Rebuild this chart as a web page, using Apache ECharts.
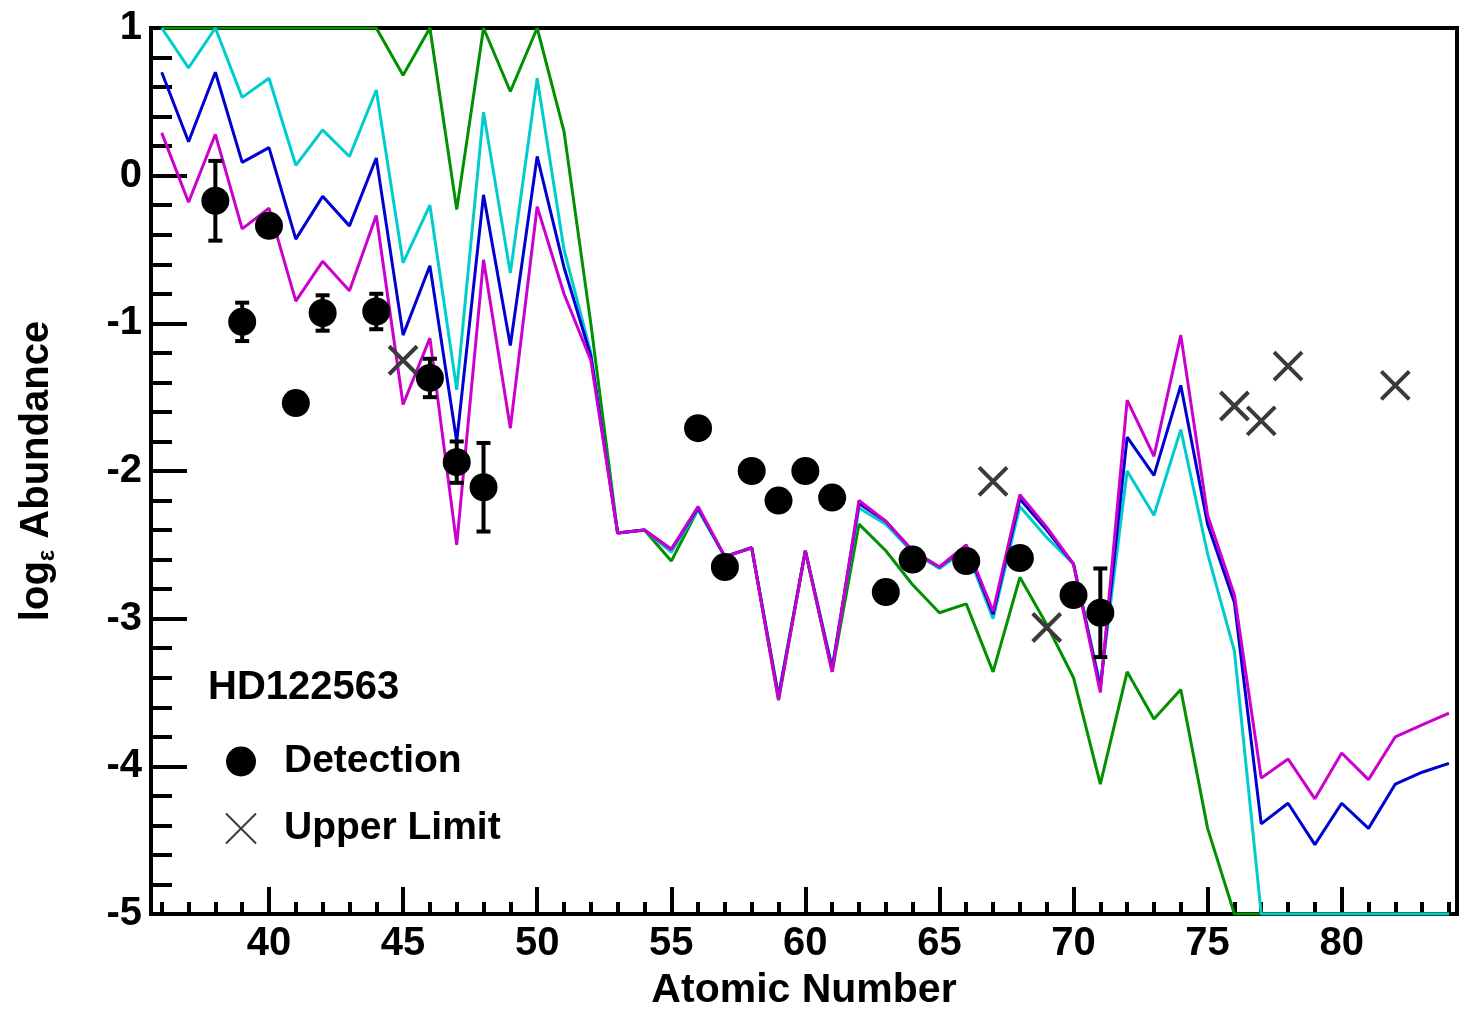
<!DOCTYPE html>
<html><head><meta charset="utf-8">
<script src="https://cdn.jsdelivr.net/npm/echarts@6/dist/echarts.min.js"></script>
<style>html,body{margin:0;padding:0;background:#fff}#c{width:1461px;height:1016px}</style>
</head><body><div id="c"></div>
<script>
// ---------- data ----------
const atomicNumbers = [36,37,38,39,40,41,42,43,44,45,46,47,48,49,50,51,52,53,54,55,56,57,58,59,60,61,62,63,64,65,66,67,68,69,70,71,72,73,74,75,76,77,78,79,80,81,82,83,84];
const greenModel = [1,1,1,1,1,1,1,1,1,0.68,1,-0.23,1,0.57,1,0.3,-1.0,-2.42,-2.40,-2.61,-2.26,-2.58,-2.52,-3.55,-2.54,-3.36,-2.36,-2.54,-2.77,-2.96,-2.90,-3.36,-2.72,-3.04,-3.40,-4.12,-3.36,-3.68,-3.48,-4.42,-5,-5,-5,-5,-5,-5,-5,-5,-5];
const cyanModel = [1.0,0.73,1.0,0.53,0.66,0.07,0.31,0.13,0.58,-0.59,-0.20,-1.45,0.43,-0.66,0.66,-0.5,-1.2,-2.42,-2.40,-2.55,-2.26,-2.58,-2.52,-3.52,-2.54,-3.33,-2.25,-2.36,-2.55,-2.66,-2.53,-3.0,-2.24,-2.45,-2.63,-3.45,-2.0,-2.30,-1.72,-2.56,-3.22,-5,-5,-5,-5,-5,-5,-5,-5];
const blueModel = [0.70,0.23,0.70,0.09,0.19,-0.43,-0.14,-0.34,0.12,-1.08,-0.61,-1.80,-0.13,-1.15,0.13,-0.62,-1.22,-2.42,-2.40,-2.53,-2.25,-2.58,-2.52,-3.53,-2.54,-3.34,-2.22,-2.34,-2.54,-2.65,-2.51,-2.97,-2.19,-2.40,-2.63,-3.47,-1.77,-2.03,-1.42,-2.36,-2.89,-4.39,-4.25,-4.53,-4.25,-4.42,-4.12,-4.04,-3.98];
const magentaModel = [0.29,-0.18,0.28,-0.36,-0.22,-0.85,-0.58,-0.78,-0.27,-1.55,-1.10,-2.50,-0.57,-1.71,-0.21,-0.8,-1.25,-2.42,-2.40,-2.53,-2.24,-2.58,-2.52,-3.55,-2.54,-3.36,-2.20,-2.34,-2.54,-2.65,-2.50,-2.95,-2.16,-2.38,-2.63,-3.50,-1.52,-1.90,-1.08,-2.30,-2.84,-4.08,-3.95,-4.22,-3.91,-4.09,-3.80,-3.72,-3.64];

const detectionZ = [38,39,40,41,42,44,46,47,48,56,57,58,59,60,61,63,64,66,68,70,71];
const detectionVal = [-0.17,-0.99,-0.34,-1.54,-0.93,-0.92,-1.37,-1.94,-2.11,-1.71,-2.65,-2.00,-2.20,-2.00,-2.18,-2.82,-2.60,-2.61,-2.59,-2.84,-2.96];
const detectionErr = [0.27,0.13,0,0,0.12,0.12,0.13,0.14,0.30,0,0,0,0,0,0,0,0,0,0,0,0.30];

const upperZ = [45,67,69,76,77,78,82];
const upperVal = [-1.25,-2.07,-3.06,-1.56,-1.66,-1.29,-1.42];

const xMajorTicks = [40,45,50,55,60,65,70,75,80];
const xMinorTicks = [36,37,38,39,40,41,42,43,44,45,46,47,48,49,50,51,52,53,54,55,56,57,58,59,60,61,62,63,64,65,66,67,68,69,70,71,72,73,74,75,76,77,78,79,80,81,82,83,84];
const starName = 'HD122563';

// ---------- chart ----------
const FONT = "'Liberation Sans', Arial, Helvetica, sans-serif";
const chart = echarts.init(document.getElementById('c'), null, {renderer: 'canvas'});
const pairs = arr => atomicNumbers.map((z, i) => [z, arr[i]]);
const XPATH = 'path://M0,0L30,30M30,0L0,30';

function lineSeries(name, color, arr) {
  return {
    name, type: 'line', data: pairs(arr), symbol: 'none', clip: true,
    lineStyle: {color, width: 3}, itemStyle: {color}, z: 2, silent: true
  };
}

const errData = [];
detectionZ.forEach((z, i) => { if (detectionErr[i] > 0) errData.push([z, detectionVal[i], detectionErr[i]]); });

const option = {
  animation: false,
  backgroundColor: '#fff',
  grid: {left: 151, top: 28, width: 1306, height: 889, show: true, borderColor: '#000', borderWidth: 4, backgroundColor: 'transparent'},
  xAxis: [{
    type: 'value', min: 35.6, max: 84.3, position: 'bottom',
    axisLine: {show: true, onZero: false, lineStyle: {color: '#000', width: 4}},
    axisTick: {show: true, inside: true, length: 27, lineStyle: {color: '#000', width: 4}, customValues: xMajorTicks},
    axisLabel: {show: true, customValues: xMajorTicks, margin: 10, color: '#000', fontSize: 40, fontWeight: 'bold', fontFamily: FONT},
    splitLine: {show: false},
    name: 'Atomic Number', nameLocation: 'middle', nameGap: 56,
    nameTextStyle: {color: '#000', fontSize: 41, fontWeight: 'bold', fontFamily: FONT}
  }, {
    type: 'value', min: 35.6, max: 84.3, position: 'bottom', offset: 0,
    axisLine: {show: false, onZero: false},
    axisTick: {show: true, inside: true, length: 12, lineStyle: {color: '#000', width: 4}, customValues: xMinorTicks},
    axisLabel: {show: false},
    splitLine: {show: false}
  }],
  yAxis: {
    type: 'value', min: -5, max: 1, interval: 1,
    axisLine: {show: true, onZero: false, lineStyle: {color: '#000', width: 4}},
    axisTick: {show: true, inside: true, length: 36, lineStyle: {color: '#000', width: 4}},
    minorTick: {show: true, splitNumber: 5, length: 21, lineStyle: {color: '#000', width: 4}},
    axisLabel: {margin: 9, color: '#000', fontSize: 40, fontWeight: 'bold', fontFamily: FONT},
    splitLine: {show: false},
    name: '{t|log}{s|ε}{t| Abundance}', nameLocation: 'middle', nameRotate: 90, nameGap: 92,
    nameTextStyle: {
      color: '#000', fontFamily: FONT, fontWeight: 'bold', fontSize: 40,
      rich: {
        t: {fontSize: 40, fontWeight: 'bold', fontFamily: FONT, color: '#000', lineHeight: 44},
        s: {fontSize: 24, fontWeight: 'bold', fontFamily: FONT, color: '#000', verticalAlign: 'bottom', lineHeight: 44, padding: [18, 0, 0, 0]}
      }
    }
  },
  legend: {
    show: true, orient: 'vertical', left: 225, top: 742, padding: 0,
    itemWidth: 30, itemHeight: 30, itemGap: 28,
    textStyle: {color: '#000', fontSize: 39, fontWeight: 'bold', fontFamily: FONT, lineHeight: 30, height: 30, padding: [0, 0, 0, 23]},
    data: [{name: 'Detection', icon: 'circle'}, {name: 'Upper Limit', icon: XPATH}],
    selectedMode: false
  },
  graphic: [{
    type: 'text', left: 208, top: 668,
    style: {text: starName, fill: '#000', font: "bold 40px 'Liberation Sans', Arial, sans-serif"}
  }],
  series: [
    lineSeries('green', '#009000', greenModel),
    lineSeries('cyan', '#00cccc', cyanModel),
    lineSeries('blue', '#0000d0', blueModel),
    lineSeries('magenta', '#cc00cc', magentaModel),
    {
      name: 'errors', type: 'custom', data: errData, z: 4, silent: true,
      renderItem(params, api) {
        const x = api.value(0), y = api.value(1), e = api.value(2);
        const t = api.coord([x, y + e]), b = api.coord([x, y - e]);
        const hw = 7, st = {stroke: '#000', lineWidth: 4};
        return {type: 'group', children: [
          {type: 'line', shape: {x1: t[0], y1: t[1], x2: b[0], y2: b[1]}, style: st},
          {type: 'line', shape: {x1: t[0] - hw, y1: t[1], x2: t[0] + hw, y2: t[1]}, style: st},
          {type: 'line', shape: {x1: b[0] - hw, y1: b[1], x2: b[0] + hw, y2: b[1]}, style: st}
        ]};
      }
    },
    {
      name: 'Detection', type: 'scatter', symbol: 'circle', symbolSize: 28, z: 5,
      data: detectionZ.map((z, i) => [z, detectionVal[i]]),
      itemStyle: {color: '#000', opacity: 1}
    },
    {
      name: 'Upper Limit', type: 'scatter', symbol: XPATH, symbolSize: 28, z: 5,
      data: upperZ.map((z, i) => [z, upperVal[i]]),
      itemStyle: {color: 'transparent', borderColor: '#3a3a3a', borderWidth: 4, opacity: 1}
    }
  ]
};
chart.setOption(option);
</script></body></html>
